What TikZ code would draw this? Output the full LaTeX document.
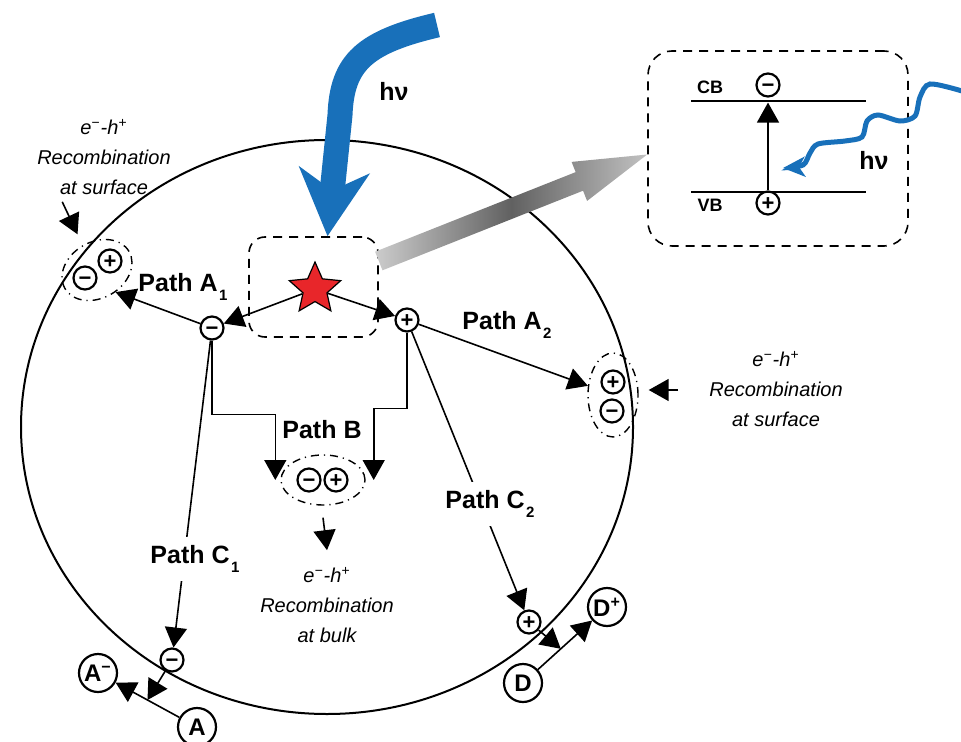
\documentclass[tikz,border=0pt]{standalone}
\usepackage{fontspec}
\setmainfont{Liberation Sans}
\usetikzlibrary{arrows.meta,shapes.geometric,calc}
\definecolor{hvblue}{RGB}{24,112,186}
\definecolor{starred}{RGB}{232,38,42}
\newcommand{\lsub}[1]{\kern0.8pt\raisebox{-4.5pt}{\fontsize{7.5}{7.5}\selectfont#1}}

\begin{document}
\begin{tikzpicture}[x=0.5pt,y=-0.5pt,
    arr/.style={-{Triangle[length=10pt,width=11pt]},line width=0.8pt},
    charge/.style={circle,draw,line width=1.1pt,inner sep=0pt,minimum size=11.5pt,
        text height=7.4pt,text depth=0pt,font=\bfseries\fontsize{11}{11}\selectfont},
    species/.style={circle,draw,line width=1.1pt,inner sep=0pt,minimum size=19pt,
        font=\bfseries\fontsize{12}{12}\selectfont},
    path label/.style={font=\bfseries\fontsize{12.5}{14}\selectfont},
    band label/.style={font=\bfseries\fontsize{9}{9}\selectfont},
    hv label/.style={font=\bfseries\fontsize{12.5}{12.5}\selectfont},
    rec text/.style={align=center,font=\itshape\fontsize{10}{15}\selectfont},
    rec ell/.style={ellipse,draw,line width=0.7pt,inner sep=0pt,
        dash pattern=on 4pt off 2.5pt on 0.6pt off 2.5pt},
    dbox/.style={draw,line width=0.8pt,dash pattern=on 4.5pt off 3.5pt,inner sep=0pt}]

    \useasboundingbox (0,0) rectangle (961,742);

    % the particle
    \node[ellipse,draw,line width=1pt,inner sep=0pt,minimum width=306pt,minimum height=287pt] (grain) at (327,427) {};

    % excitation site and inset
    \node[dbox,rounded corners=8pt,minimum width=64.5pt,minimum height=50pt] (exc) at (313.5,287) {};
    \node[star,star points=5,star point ratio=2.15,draw,line width=0.6pt,fill=starred,
          inner sep=0pt,minimum size=27pt] (site) at (315,289) {};
    \node[dbox,rounded corners=12pt,minimum width=130pt,minimum height=97.5pt] (ins) at (778,148.5) {};

    % incoming light
    \draw[hvblue,line width=12.5pt,-{Stealth[length=33pt,width=35pt,inset=10pt]}]
        (437,25) .. controls (365,42) and (342,62) .. (340,115) -- ([xshift=7pt]exc.north);
    \node[hv label] (hv) at (394,91) {hν};

    % zoom arrow
    \coordinate (gs) at ([yshift=13pt]exc.east);
    \coordinate (gt) at ([yshift=-3pt]ins.west);
    \coordinate (gb) at ($(gt)!36.5pt!(gs)$);
    \shade[left color=black!20,right color=black!24,middle color=black!62]
        ($(gs)!5pt!90:(gt)$) -- ($(gb)!5pt!90:(gt)$) -- ($(gb)!10.5pt!90:(gt)$) -- (gt)
        -- ($(gb)!10.5pt!-90:(gt)$) -- ($(gb)!5pt!-90:(gt)$) -- ($(gs)!5pt!-90:(gt)$) -- cycle;

    % band diagram
    \draw[line width=1pt] (691,101) -- (866,101);
    \draw[line width=1pt] (691,192) -- (866,192);
    \node[band label] (cb) at (710,87) {CB};
    \node[band label] (vb) at (710,205) {VB};
    \node[charge] (cbe) at (768,85) {−};
    \node[charge] (vbh) at (768,203) {+};
    \draw[arr,shorten >=2.5pt] (vbh) -- (cbe);
    \draw[hvblue,line width=2.5pt,-{Stealth[length=11pt,width=10pt,inset=3pt]}]
        plot[smooth] coordinates {(962,91) (930,84) (920,97) (915,116) (900,121) (878,115)
            (867,121) (862,137) (845,141) (818,144) (810,153) (803,165) (783,168)};
    \node[hv label] (hv2) at (874,160) {hν};

    % photogenerated carriers
    \node[charge] (e1) at (212,328) {−};
    \node[charge] (h1) at (407,320) {+};
    \draw[arr] (site) -- (e1);
    \draw[arr] (site) -- (h1);

    % path A: surface recombination
    \node[rec ell,minimum width=37pt,minimum height=28pt,rotate=30] (lsE) at (97,270) {};
    \node[charge] at (85,278) {−};
    \node[charge] at (110,261) {+};
    \node[rec text] (lsT) at (104,157) {e\textsuperscript{−}-h\textsuperscript{+}\\Recombination\\at surface};
    \draw[arr,shorten >=6pt] ([xshift=16pt]lsT.south west) -- (lsE.north);
    \draw[arr] (e1) -- (lsE.-80);
    \node[path label] at (183,287) {Path A\lsub{1}};

    \node[rec ell,minimum width=25pt,minimum height=42pt] (rsE) at (613,395) {};
    \node[charge] at (613,382) {+};
    \node[charge] at (612,411) {−};
    \node[rec text] (rsT) at (776,389) {e\textsuperscript{−}-h\textsuperscript{+}\\Recombination\\at surface};
    \draw[arr] ([xshift=-12pt,yshift=-0.5pt]rsT.west) -- ([xshift=5pt,yshift=2.5pt]rsE.east);
    \draw[arr] (h1) -- (rsE);
    \node[path label] at (507,325) {Path A\lsub{2}};

    % path B: bulk recombination
    \node[rec ell,minimum width=42pt,minimum height=25pt] (bkE) at (323,480) {};
    \node[charge] at (309,480) {−};
    \node[charge] at (336,480) {+};
    \draw[arr] (e1.south) -- ++(0,74) -| ([xshift=-2.5pt]bkE.west);
    \draw[arr] (h1.south) -- ++(0,76) -| ([xshift=4pt]bkE.east);
    \node[path label] at (322,430) {Path B};
    \node[rec text] (bkT) at (327,605) {e\textsuperscript{−}-h\textsuperscript{+}\\Recombination\\at bulk};
    \draw[arr] ([yshift=-6pt]bkE.south) -- ([yshift=5pt]bkT.north);

    % path C: surface reactions
    \node[charge] (e2) at (172,660) {−};
    \node[charge] (h2) at (529,622) {+};
    \draw[arr] (e1) -- (e2);
    \draw[arr] (h1) -- (h2);
    \node[path label,fill=white,inner ysep=4pt] at (195,559) {Path C\lsub{1}};
    \node[path label,fill=white,inner ysep=4pt] at (490,504) {Path C\lsub{2}};

    \node[species] (Am) at (98,673) {A\textsuperscript{−}};
    \node[species] (A) at (197,727) {A};
    \node[species] (D) at (523,683) {D};
    \node[species] (Dp) at (607,607) {D\textsuperscript{+}};
    \draw[arr] (A) -- (Am);
    \draw[arr] (D) -- (Dp);
    \draw[arr] (e2) -- ($(A)!0.5!(Am)$);
    \draw[arr] (h2) -- ($(D)!0.45!(Dp)$);
\end{tikzpicture}
\end{document}
